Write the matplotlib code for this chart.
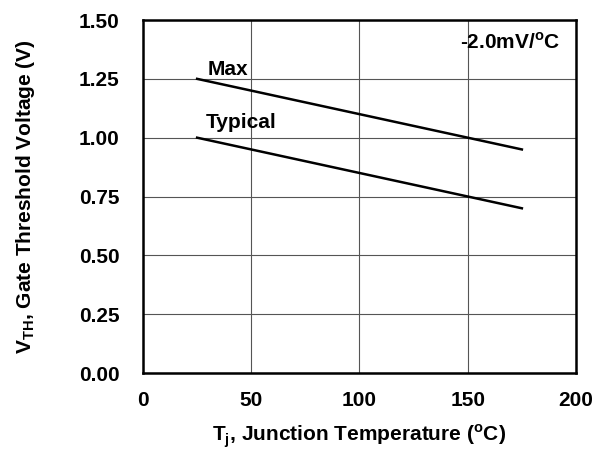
import matplotlib
matplotlib.use("Agg")
import matplotlib.pyplot as plt

# Gate threshold voltage vs junction temperature
temp = [25, 175]
vth_max = [1.25, 0.95]
vth_typ = [1.00, 0.70]

x_ticks = [0, 50, 100, 150, 200]
y_ticks = [0.00, 0.25, 0.50, 0.75, 1.00, 1.25, 1.50]

plt.rcParams["font.family"] = ["Liberation Sans", "DejaVu Sans"]
plt.rcParams["font.weight"] = "bold"
plt.rcParams["mathtext.fontset"] = "custom"
plt.rcParams["mathtext.rm"] = "Liberation Sans:bold"
plt.rcParams["mathtext.bf"] = "Liberation Sans:bold"

FS = 15

fig = plt.figure(figsize=(5.94, 4.53), dpi=100)
ax = fig.add_axes([0.2407, 0.1766, 0.729, 0.7792])

ax.plot(temp, vth_max, color="black", lw=1.8)
ax.plot(temp, vth_typ, color="black", lw=1.8)

ax.set_xlim(0, 200)
ax.set_ylim(0, 1.5)
ax.set_xticks(x_ticks)
ax.set_yticks(y_ticks)
ax.set_yticklabels([f"{v:.2f}" for v in y_ticks])
ax.grid(True, color="#555555", lw=0.8)
ax.tick_params(axis="y", length=0, labelsize=FS, pad=17)
ax.tick_params(axis="x", length=0, labelsize=FS, pad=13)
for s in ax.spines.values():
    s.set_linewidth(1.8)

ax.text(30, 1.266, "Max", fontsize=FS, fontweight="bold")
ax.text(29, 1.041, "Typical", fontsize=FS, fontweight="bold")
ax.text(193, 1.377, "-2.0mV/$^\\mathregular{o}$C", fontsize=FS,
        fontweight="bold", ha="right")

ax.set_xlabel("T$_\\mathregular{j}$, Junction Temperature ($^\\mathregular{o}$C)",
              fontsize=FS, fontweight="bold", labelpad=9)
ax.set_ylabel("V$_\\mathregular{TH}$, Gate Threshold Voltage (V)",
              fontsize=FS, fontweight="bold", labelpad=30)

fig.savefig("out.png", dpi=100)
